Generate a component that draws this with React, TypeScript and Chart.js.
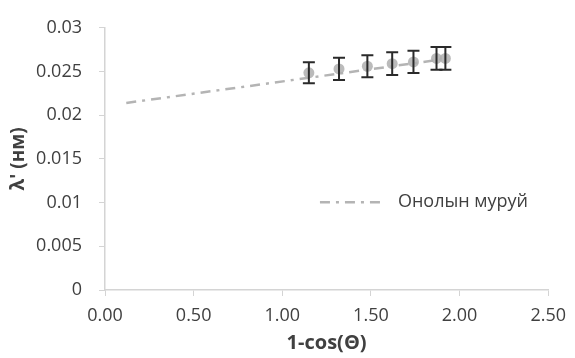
import React, { useEffect, useRef } from "react";
import { Chart, registerables } from "chart.js";

Chart.register(...registerables);

// Theoretical curve ("Онолын муруй")
const theoryX = [0.12, 1.15, 1.32, 1.48, 1.62, 1.74, 1.89];
const theoryY = [0.0214, 0.02428, 0.02476, 0.02521, 0.0256, 0.02594, 0.02636];

// Experimental points with error bars
const expX = [1.15, 1.32, 1.48, 1.62, 1.74, 1.87, 1.92];
const expY = [0.02485, 0.0253, 0.0256, 0.0259, 0.0261, 0.0265, 0.0265];
const expErr = [0.0012, 0.00127, 0.00127, 0.0013, 0.00127, 0.0013, 0.0013];

const yTickLabels = ["0", "0.005", "0.01", "0.015", "0.02", "0.025", "0.03"];
const xTickLabels = ["0.00", "0.50", "1.00", "1.50", "2.00", "2.50"];

const legendLabel = "Онолын муруй";
const xTitle = "1-cos(Θ)";
const yTitle = "λ' (нм)";

const FONT = "'Open Sans', 'DejaVu Sans', sans-serif";
const TEXT = "#404040";
const AXIS = "#d4d4d4";
const LINE = "#b4b4b4";
const DASH = [10, 6, 3, 6];

const errorBarPlugin = {
  id: "errorBars",
  afterDatasetsDraw(chart: any) {
    const { ctx, scales } = chart;
    const xs = scales.x;
    const ys = scales.y;
    ctx.save();
    ctx.strokeStyle = "#2a2a2a";
    ctx.lineWidth = 2;
    for (let i = 0; i < expX.length; i++) {
      const px = xs.getPixelForValue(expX[i]);
      const top = ys.getPixelForValue(expY[i] + expErr[i]);
      const bot = ys.getPixelForValue(expY[i] - expErr[i]);
      ctx.beginPath();
      ctx.moveTo(px, top);
      ctx.lineTo(px, bot);
      ctx.moveTo(px - 6, top);
      ctx.lineTo(px + 6, top);
      ctx.moveTo(px - 6, bot);
      ctx.lineTo(px + 6, bot);
      ctx.stroke();
    }
    ctx.restore();
  },
};

const legendPlugin = {
  id: "insideLegend",
  afterDraw(chart: any) {
    const { ctx, chartArea } = chart;
    const x0 = chartArea.left + (chartArea.right - chartArea.left) * 0.485;
    const y0 = chartArea.top + (chartArea.bottom - chartArea.top) * 0.665;
    ctx.save();
    ctx.strokeStyle = LINE;
    ctx.lineWidth = 2.5;
    ctx.setLineDash(DASH);
    ctx.beginPath();
    ctx.moveTo(x0, y0);
    ctx.lineTo(x0 + 60, y0);
    ctx.stroke();
    ctx.setLineDash([]);
    ctx.fillStyle = TEXT;
    ctx.font = `18px ${FONT}`;
    ctx.textBaseline = "middle";
    ctx.textAlign = "left";
    ctx.fillText(legendLabel, x0 + 78, y0);
    ctx.restore();
  },
};

export default function App() {
  const ref = useRef<HTMLCanvasElement | null>(null);

  useEffect(() => {
    document.body.style.margin = "0";
    const canvas = ref.current;
    if (!canvas) return;
    const chart = new Chart(canvas, {
      type: "scatter",
      data: {
        datasets: [
          {
            label: "exp",
            data: expX.map((x, i) => ({ x, y: expY[i] })),
            showLine: false,
            pointRadius: 5.5,
            pointBackgroundColor: "rgba(175,175,175,0.85)",
            pointBorderWidth: 0,
            pointBorderColor: "rgba(0,0,0,0)",
          },
          {
            label: legendLabel,
            data: theoryX.map((x, i) => ({ x, y: theoryY[i] })),
            showLine: true,
            borderColor: LINE,
            borderWidth: 2.5,
            borderDash: DASH,
            pointRadius: 0,
            fill: false,
          },
        ],
      },
      options: {
        responsive: false,
        animation: false,
        devicePixelRatio: 1,
        layout: { padding: { top: 22, right: 20, bottom: 0, left: 0 } },
        plugins: {
          legend: { display: false },
          tooltip: { enabled: false },
        },
        scales: {
          x: {
            type: "linear",
            min: 0,
            max: 2.5,
            afterFit(scale: any) {
              scale.height = 68;
            },
            ticks: {
              stepSize: 0.5,
              padding: 9,
              color: TEXT,
              font: { family: FONT, size: 18 },
              maxRotation: 0,
              callback: (_v: any, i: number) => xTickLabels[i],
            },
            grid: {
              drawOnChartArea: false,
              drawTicks: true,
              tickLength: 6,
              color: AXIS,
            },
            border: { color: AXIS, width: 1.5 },
            title: {
              display: true,
              text: xTitle,
              color: TEXT,
              font: { family: FONT, size: 20, weight: "bold" },
              padding: { top: 0, bottom: 3 },
            },
          },
          y: {
            type: "linear",
            min: 0,
            max: 0.03,
            afterFit(scale: any) {
              scale.width = 105;
            },
            ticks: {
              stepSize: 0.005,
              padding: 17,
              color: TEXT,
              font: { family: FONT, size: 18 },
              callback: (_v: any, i: number) => yTickLabels[i],
            },
            grid: {
              drawOnChartArea: false,
              drawTicks: true,
              tickLength: 6,
              color: AXIS,
            },
            border: { color: AXIS, width: 1.5 },
            title: {
              display: true,
              text: yTitle,
              color: TEXT,
              font: { family: FONT, size: 19, weight: "bold" },
              padding: { top: 7, bottom: 0 },
            },
          },
        },
      },
      plugins: [errorBarPlugin, legendPlugin],
    });
    return () => chart.destroy();
  }, []);

  return (
    <div style={{ width: 575, height: 358 }}>
      <canvas ref={ref} width={575} height={358} style={{ display: "block" }} />
    </div>
  );
}
